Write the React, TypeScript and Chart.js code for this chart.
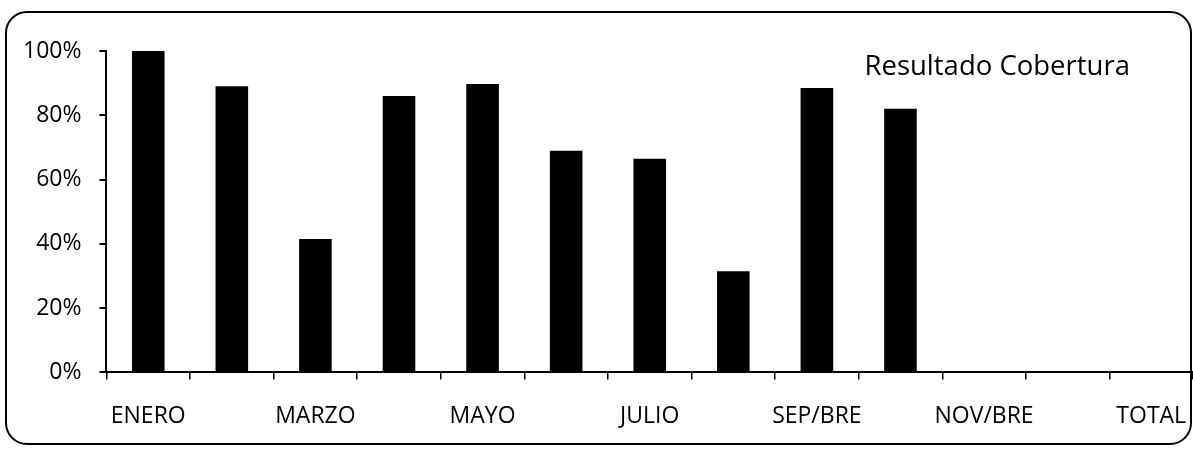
import React, { useEffect, useRef } from "react";
import { Chart, registerables } from "chart.js";

Chart.register(...registerables);

const categories = [
  "ENERO", "FEBRERO", "MARZO", "ABRIL", "MAYO", "JUNIO", "JULIO",
  "AGOSTO", "SEP/BRE", "OCT/BRE", "NOV/BRE", "DIC/BRE", "TOTAL",
];
const coverage: (number | null)[] = [
  100, 89, 41.5, 86, 89.7, 69, 66.5, 31.5, 88.5, 82, null, null, null,
];
const seriesLabel = "Resultado Cobertura";
const yTicks = [0, 20, 40, 60, 80, 100];

const FONT = "'Open Sans', sans-serif";

const titlePlugin = {
  id: "cornerTitle",
  afterDraw(chart: any) {
    const ctx = chart.ctx;
    const area = chart.chartArea;
    ctx.save();
    ctx.font = `27.5px ${FONT}`;
    ctx.fillStyle = "#000";
    ctx.textAlign = "left";
    ctx.textBaseline = "alphabetic";
    ctx.fillText(seriesLabel, area.left + 758, area.top + 24);
    ctx.restore();
  },
};

export default function App() {
  const ref = useRef<HTMLCanvasElement>(null);
  useEffect(() => {
    if (!ref.current) return;
    const chart = new Chart(ref.current, {
      type: "bar",
      data: {
        labels: categories,
        datasets: [
          {
            label: seriesLabel,
            data: coverage,
            backgroundColor: "#000",
            borderWidth: 0,
            categoryPercentage: 1,
            barPercentage: 0.39,
          },
        ],
      },
      options: {
        animation: false,
        responsive: false,
        maintainAspectRatio: false,
        layout: { padding: { top: 51, right: 0, bottom: -3, left: 5 } },
        plugins: {
          legend: { display: false },
          tooltip: { enabled: false },
          title: { display: false },
        },
        scales: {
          x: {
            afterFit: (scale: any) => {
              scale.paddingLeft = 0;
              scale.paddingRight = 0;
            },
            grid: {
              display: true,
              drawOnChartArea: false,
              drawTicks: true,
              tickLength: 7,
              color: "#000",
              lineWidth: 1.5,
              offset: true,
            },
            border: { display: true, color: "#000", width: 2 },
            ticks: {
              autoSkip: false,
              maxRotation: 0,
              minRotation: 0,
              color: "#000",
              padding: 23,
              font: { family: FONT, size: 23 },
              callback: (_v: any, i: number) => (i % 2 === 0 ? categories[i] : ""),
            },
          },
          y: {
            min: 0,
            max: 100,
            afterBuildTicks: (axis: any) => {
              axis.ticks = yTicks.map((v) => ({ value: v }));
            },
            grid: {
              display: true,
              drawOnChartArea: false,
              drawTicks: true,
              tickLength: 7,
              color: "#000",
              lineWidth: 2,
            },
            border: { display: true, color: "#000", width: 2 },
            ticks: {
              color: "#000",
              padding: 18,
              font: { family: FONT, size: 23 },
              callback: (v: any) => `${v}%`,
            },
          },
        },
      },
      plugins: [titlePlugin],
    });
    return () => chart.destroy();
  }, []);

  return (
    <div style={{ position: "absolute", left: 0, top: 0, width: 1193, height: 450, background: "#fff" }}>
      <div
        style={{
          position: "absolute",
          left: 5,
          top: 11,
          width: 1183,
          height: 430,
          border: "2px solid #000",
          borderRadius: 22,
        }}
      />
      <canvas ref={ref} width={1193} height={450} style={{ position: "absolute", left: 0, top: 0 }} />
    </div>
  );
}
